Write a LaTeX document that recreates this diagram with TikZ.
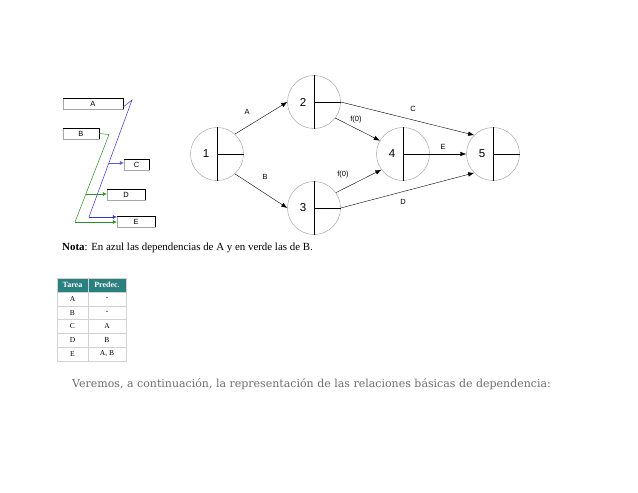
\documentclass[tikz,border=0pt]{standalone}
\usepackage{fontspec}
\setmainfont{Liberation Serif}
\newfontfamily\diagfont{Liberation Sans}
\newfontfamily\textofont{DejaVu Serif}
\usepackage{tikz}
\usetikzlibrary{calc,positioning,arrows.meta}
\definecolor{AzulDep}{HTML}{3434C8}
\definecolor{VerdeDep}{HTML}{2E8B2E}
\definecolor{TablaHead}{HTML}{2A7F7F}
\definecolor{TextoGris}{HTML}{6E6E6E}

\tikzset{
  tarea/.style={draw=gray!70, inner sep=0pt, minimum height=11pt, font=\diagfont\fontsize{7.5}{8}\selectfont},
  evento/.style={circle, draw=gray!80, minimum size=53pt, inner sep=0pt},
  num/.style={font=\diagfont\fontsize{11.5}{12}\selectfont, inner sep=0pt},
  etiq/.style={font=\diagfont\fontsize{7.5}{8}\selectfont, inner sep=0pt},
  flecha/.style={-{Latex[length=6pt,width=4.5pt]}, line width=0.4pt},
  dep/.style={line width=0.5pt},
  depflecha/.style={dep, -{Latex[length=4pt,width=4pt]}},
  celda/.style={draw=gray!35, inner sep=0pt, minimum height=13.8pt, font=\fontsize{7.5}{8}\selectfont},
  cabecera/.style={celda, fill=TablaHead, text=white, font=\bfseries\fontsize{8}{9}\selectfont}
}

\begin{document}
\begin{tikzpicture}[x=1pt, y=-1pt]
    \useasboundingbox[fill=white] (0,0) rectangle (638,493);

    % tareas con dependencias
    \node[tarea, minimum width=60pt] (tA) at (93,103.5) {A};
    \node[tarea, minimum width=36pt] (tB) at (81,133.5) {B};
    \node[tarea, minimum width=25pt] (tC) at (136.5,164.5) {C};
    \node[tarea, minimum width=38pt] (tD) at (126,194.5) {D};
    \node[tarea, minimum width=38pt] (tE) at (136,221.5) {E};
    \foreach \t in {tA,tB,tC,tD,tE}
        \draw (\t.north west) -- (\t.north east) -- (\t.south east);

    \coordinate (a1) at (132,100);
    \coordinate (a2) at (89,217);
    \coordinate (ac) at (108.8,163);
    \coordinate (b1) at (109,134.5);
    \coordinate (b2) at (75,222);
    \coordinate (bd) at (85.8,194);

    \draw[AzulDep, dep] ([yshift=-3.5pt]tA.east) -- (a1) -- (a2);
    \draw[AzulDep, depflecha] (a2) -- (a2 -| tE.west);
    \draw[AzulDep!80, depflecha] (ac) -- (ac -| tC.west);
    \draw[VerdeDep, dep] (tB.east) -- (b1) -- (b2);
    \draw[VerdeDep, depflecha] (b2) -- (b2 -| tE.west);
    \draw[VerdeDep, depflecha] (bd) -- (bd -| tD.west);

    % red de eventos
    \node[evento] (n1) at (217,154) {};
    \node[evento] (n2) at (314,102) {};
    \node[evento] (n3) at (314,208) {};
    \node[evento] (n4) at (403,154) {};
    \node[evento] (n5) at (493,154) {};
    \foreach \n in {1,...,5} {
        \draw (n\n.north) -- (n\n.south);
        \draw (n\n.center) -- (n\n.east);
        \node[num] (k\n) at ([xshift=-11pt]n\n.center) {\n};
    }

    \draw[flecha] (n1.48) -- (n2.west);
    \draw[flecha] (n1.-48) -- (n3.west);
    \draw[flecha] (n2.east) -- (n5.135);
    \draw[flecha] (n2.-37) -- (n4.150);
    \draw[flecha] (n3.35) -- (n4.-144);
    \draw[flecha] (n4.east) -- (n5.west);
    \draw[flecha] (n3.east) -- (n5.-135);

    \node[etiq] (lA) at (247,112) {A};
    \node[etiq] (lB) at (265,177) {B};
    \node[etiq] (lC) at (413,109) {C};
    \node[etiq] (lF1) at (356,120) {f(0)};
    \node[etiq] (lF2) at (343,175) {f(0)};
    \node[etiq] (lE) at (443,147) {E};
    \node[etiq] (lD) at (403,202) {D};

    % nota
    \node[anchor=west, inner sep=0pt, font=\fontsize{10.9}{12}\selectfont] (nota) at (62,248)
        {\textbf{Nota}: En azul las dependencias de A y en verde las de B.};

    % tabla de precedencias
    \node[cabecera, minimum width=31pt] (h1) at (72.5,285) {Tarea};
    \node[cabecera, minimum width=38pt] (h2) at (107,285) {Predec.};
    \foreach \t/\p [count=\i] in {A/-, B/-, C/A, D/B, E/{A, B}} {
        \node[celda, minimum width=31pt] (c\i) at (72.5,{285+13.8*\i}) {\t};
        \node[celda, minimum width=38pt] (p\i) at (107,{285+13.8*\i}) {\p};
    }

    % texto final
    \node[anchor=west, inner sep=0pt, text=TextoGris, font=\textofont\fontsize{11}{12}\selectfont] (texto) at (72,384)
        {Veremos, a continuación, la representación de las relaciones básicas de dependencia:};
\end{tikzpicture}
\end{document}
